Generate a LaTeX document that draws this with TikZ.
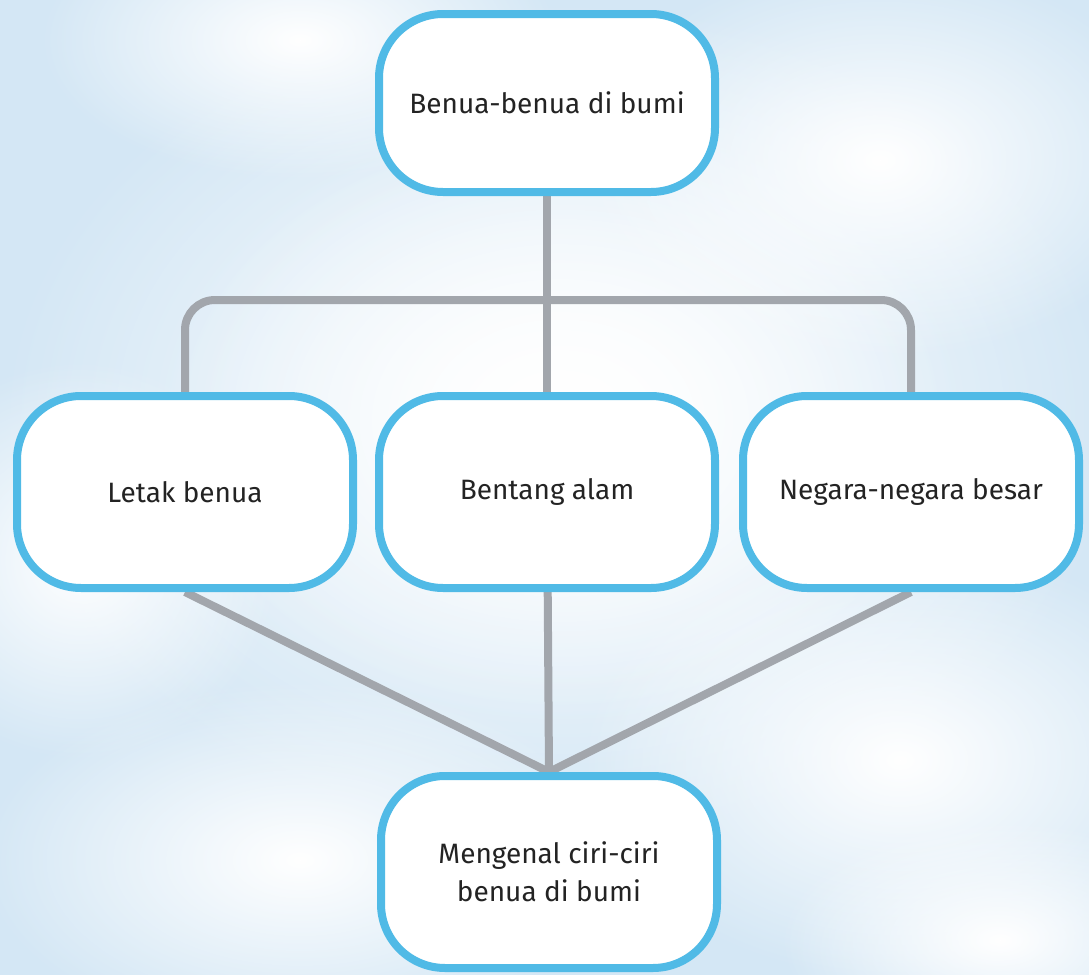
\documentclass[tikz,border=0pt]{standalone}
\usepackage{fontspec}
\setmainfont{Fira Sans}
\usetikzlibrary{fadings}

\definecolor{skyblue}{RGB}{212,231,245}
\definecolor{boxblue}{RGB}{80,186,230}
\definecolor{linkgray}{RGB}{162,166,172}
\definecolor{inkgray}{RGB}{35,35,35}

\tikzfading[name=softpuff,inner color=transparent!0,outer color=transparent!100]

\pgfdeclarelayer{sky}
\pgfdeclarelayer{links}
\pgfsetlayers{sky,links,main}

\begin{document}
\begin{tikzpicture}[x=0.5pt,y=-0.5pt,
  box/.style={draw=boxblue,line width=4pt,fill=white,rounded corners=32pt,
    minimum width=168pt,minimum height=96pt,align=center,text=inkgray,
    font=\fontsize{14}{19}\selectfont},
  link/.style={draw=linkgray,line width=4pt},
  puff/.style={white,path fading=softpuff}]
\useasboundingbox (0,0) rectangle (1089,975);

% sky behind the chart
\begin{pgfonlayer}{sky}
\fill[skyblue] (0,0) rectangle (1089,975);
\fill[puff] (560,420) ellipse (560 and 420);
\fill[puff] (560,420) ellipse (400 and 300);
\fill[puff] (300,40) ellipse (260 and 140);
\fill[puff] (880,160) ellipse (300 and 200);
\fill[puff] (80,560) ellipse (200 and 200);
\fill[puff] (300,860) ellipse (320 and 180);
\fill[puff] (900,760) ellipse (320 and 220);
\fill[puff] (1000,940) ellipse (220 and 120);
\end{pgfonlayer}

\node [box,minimum height=89pt] (bumi) at (547,103) {Benua-benua di bumi};
\node [box] (letak) at (185,492) {Letak benua};
\node [box] (alam) at (547,492) {Bentang alam};
\node [box] (negara) at (911,492) {Negara-negara besar};
\node [box] (ciri) at (549,872) {Mengenal ciri-ciri\\benua di bumi};
\coordinate (bar) at (547,300);

\begin{pgfonlayer}{links}
\draw[link] (bumi) -- (alam);
\draw[link,rounded corners=15pt] (letak.north) |- (bar) -| (negara.north);
\draw[link] (letak.south) -- (ciri.north);
\draw[link] (alam) -- (ciri.north);
\draw[link] (negara.south) -- (ciri.north);
\end{pgfonlayer}
\end{tikzpicture}
\end{document}
